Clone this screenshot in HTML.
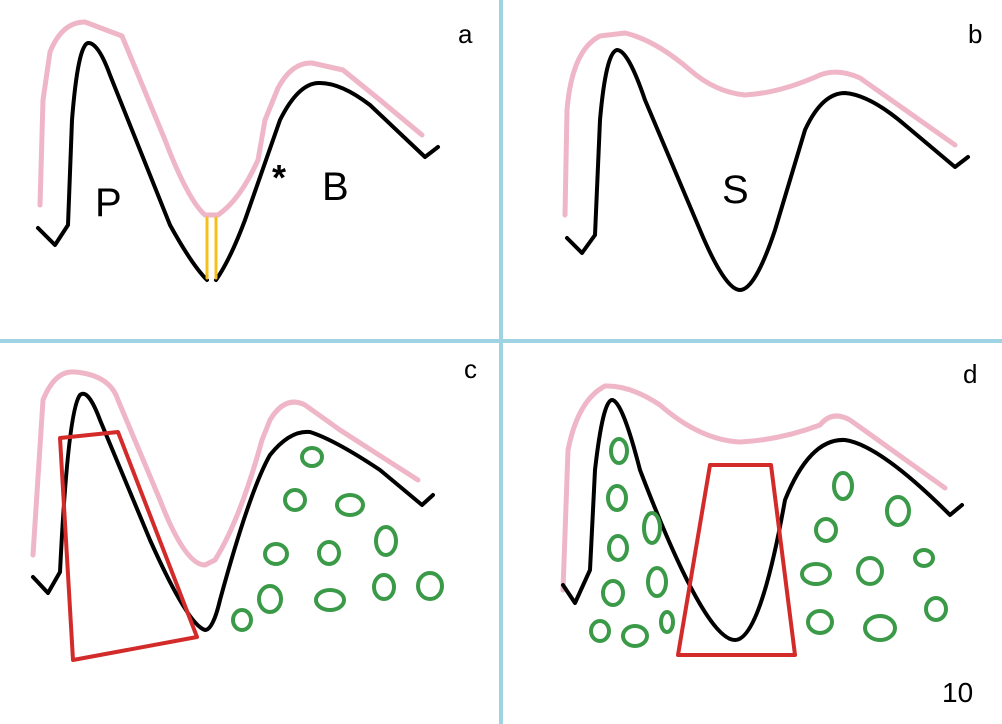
<!DOCTYPE html>
<html><head><meta charset="utf-8"><style>
html,body{margin:0;padding:0;background:#fff;}
svg{display:block;}
text{font-family:"Liberation Sans",sans-serif;fill:#000;}
</style></head><body>
<svg width="1002" height="724" viewBox="0 0 1002 724" xmlns="http://www.w3.org/2000/svg">
<rect width="1002" height="724" fill="#fff"/>
<g fill="none" stroke-linecap="round" stroke-linejoin="round">
<!-- a -->
<path d="M40,205 L43,100 L50,52 Q62,22 85,22 L122,36 L165,140 Q188,200 205,215 L218,215 Q240,200 258,160 L265,120 L278,88 Q292,62 312,63 L343,70 L380,100 L422,135" stroke="#efb6c8" stroke-width="5"/>
<path d="M38,228 L55,245 L68,225 L72,120 Q78,45 88,43 Q98,42 110,75 L170,225 Q192,265 207,280" stroke="#000" stroke-width="4"/>
<path d="M216,280 Q230,260 245,220 L280,120 Q298,84 318,83 Q340,82 370,105 L425,157 L438,147" stroke="#000" stroke-width="4"/>
<path d="M207,218 L207,278 M216,218 L216,278" stroke="#f5c01a" stroke-width="3"/>
<!-- b -->
<path d="M565,215 L567,110 Q572,50 600,36 L625,33 Q655,40 690,70 Q715,92 745,95 Q780,93 820,75 Q838,68 860,78 L955,145" stroke="#efb6c8" stroke-width="5"/>
<path d="M567,238 L582,253 L595,235 L600,120 Q606,52 617,50 Q628,50 645,100 L700,230 Q725,290 740,290 Q755,290 775,230 L805,130 Q822,93 845,93 Q870,95 905,125 L955,167 L968,157" stroke="#000" stroke-width="4"/>
<!-- c -->
<path d="M33,555 L43,400 Q55,370 75,372 Q110,375 118,400 L160,500 Q185,565 205,565 L215,560 Q240,520 262,440 L270,420 Q285,395 305,405 L340,430 L418,480" stroke="#efb6c8" stroke-width="5"/>
<path d="M33,577 L48,593 L60,572 Q68,410 80,395 Q88,388 100,420 L150,540 Q188,625 205,630 Q213,630 220,600 Q250,490 270,455 Q290,430 310,432 Q335,440 380,470 L422,505 L433,495" stroke="#000" stroke-width="4"/>
<path d="M60,438 L118,432 L197,637 L73,660 Z" stroke="#d32a2a" stroke-width="4"/>
<g stroke="#3a9a48" stroke-width="4">
<ellipse cx="312" cy="457" rx="10" ry="9"/><ellipse cx="295" cy="500" rx="10" ry="10"/><ellipse cx="350" cy="505" rx="13" ry="10"/>
<ellipse cx="276" cy="554" rx="11" ry="10"/><ellipse cx="329" cy="553" rx="10" ry="11"/><ellipse cx="386" cy="541" rx="10" ry="14"/>
<ellipse cx="270" cy="599" rx="11" ry="13"/><ellipse cx="330" cy="600" rx="14" ry="10"/><ellipse cx="384" cy="587" rx="10" ry="12"/>
<ellipse cx="430" cy="586" rx="12" ry="13"/><ellipse cx="242" cy="620" rx="9" ry="10"/>
</g>
<!-- d -->
<path d="M563,590 L568,450 Q578,400 605,386 Q630,385 660,405 Q700,440 740,442 Q780,440 820,425 Q832,410 850,420 L945,488" stroke="#efb6c8" stroke-width="5"/>
<path d="M563,585 L575,603 L590,570 L595,470 Q603,400 612,400 Q622,400 640,470 Q705,640 735,640 Q760,640 785,500 Q810,438 845,440 Q880,445 950,515 L962,505" stroke="#000" stroke-width="4"/>
<path d="M710,465 L771,465 L795,655 L678,655 Z" stroke="#d32a2a" stroke-width="4"/>
<g stroke="#3a9a48" stroke-width="4">
<ellipse cx="619" cy="451" rx="8" ry="12"/><ellipse cx="617" cy="498" rx="9" ry="12"/><ellipse cx="652" cy="528" rx="8" ry="15"/>
<ellipse cx="618" cy="548" rx="9" ry="12"/><ellipse cx="657" cy="582" rx="9" ry="14"/><ellipse cx="613" cy="593" rx="10" ry="12"/>
<ellipse cx="600" cy="631" rx="9" ry="10"/><ellipse cx="635" cy="636" rx="12" ry="10"/><ellipse cx="667" cy="622" rx="6" ry="10"/>
<ellipse cx="843" cy="486" rx="9" ry="13"/><ellipse cx="898" cy="511" rx="11" ry="14"/><ellipse cx="826" cy="530" rx="10" ry="11"/>
<ellipse cx="816" cy="574" rx="14" ry="10"/><ellipse cx="870" cy="571" rx="12" ry="13"/><ellipse cx="924" cy="558" rx="9" ry="8"/>
<ellipse cx="820" cy="622" rx="12" ry="11"/><ellipse cx="880" cy="628" rx="15" ry="12"/><ellipse cx="936" cy="609" rx="10" ry="11"/>
</g>
</g>
<!-- dividers -->
<rect x="499" y="0" width="4" height="724" fill="#9fd3e3"/>
<rect x="0" y="339" width="1002" height="4" fill="#9fd3e3"/>
<!-- labels -->
<text x="458" y="43" font-size="26">a</text>
<text x="968" y="43" font-size="26">b</text>
<text x="464" y="378" font-size="26">c</text>
<text x="963" y="383" font-size="26">d</text>
<text x="95" y="216" font-size="40">P</text>
<text x="272" y="190" font-size="36" font-weight="bold">*</text>
<text x="322" y="200" font-size="40">B</text>
<text x="722" y="203" font-size="40">S</text>
<text x="942" y="702" font-size="28">10</text>
</svg>
</body></html>
